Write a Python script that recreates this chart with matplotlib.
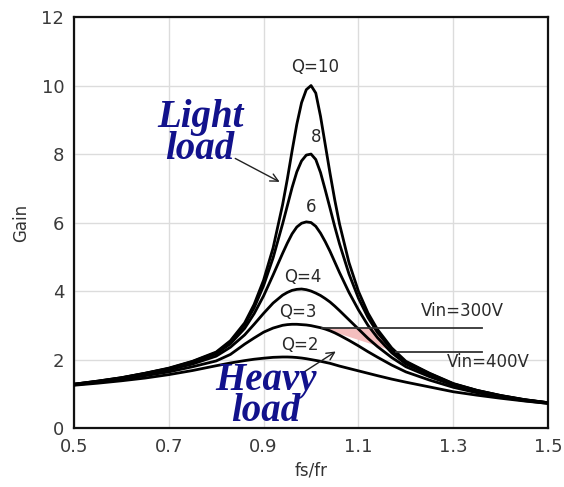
import numpy as np
import matplotlib

matplotlib.use("Agg")
import matplotlib.pyplot as plt

# normalised switching frequency fs/fr (denser around resonance)
fs_fr = [0.50, 0.55, 0.60, 0.65, 0.70, 0.75, 0.80, 0.83, 0.86, 0.88, 0.90, 0.92, 0.94,
         0.95, 0.96, 0.97, 0.98, 0.99, 1.00, 1.01, 1.02, 1.03, 1.04, 1.05, 1.06, 1.08,
         1.10, 1.12, 1.14, 1.17, 1.20, 1.25, 1.30, 1.35, 1.40, 1.45, 1.50]

# gain curves, one per Q
gain_q10 = [1.28, 1.37, 1.47, 1.60, 1.75, 1.95, 2.22, 2.55, 3.07, 3.61, 4.32, 5.26, 6.52,
            7.27, 8.09, 8.87, 9.50, 9.88, 10.0, 9.78, 9.10, 8.27, 7.44, 6.66, 5.96, 4.83,
            3.99, 3.36, 2.88, 2.34, 1.95, 1.60, 1.30, 1.10, 0.95, 0.83, 0.74]
gain_q8 = [1.28, 1.37, 1.47, 1.60, 1.74, 1.94, 2.20, 2.52, 3.02, 3.51, 4.16, 4.97, 5.96,
           6.49, 7.02, 7.48, 7.80, 7.97, 8.00, 7.84, 7.46, 6.95, 6.42, 5.88, 5.38, 4.50,
           3.79, 3.23, 2.79, 2.29, 1.92, 1.59, 1.29, 1.10, 0.95, 0.83, 0.74]
gain_q6 = [1.28, 1.36, 1.46, 1.59, 1.73, 1.92, 2.17, 2.46, 2.91, 3.34, 3.86, 4.47, 5.10,
           5.40, 5.67, 5.87, 5.98, 6.02, 6.00, 5.89, 5.69, 5.44, 5.16, 4.85, 4.54, 3.96,
           3.45, 3.00, 2.64, 2.20, 1.87, 1.56, 1.28, 1.09, 0.94, 0.82, 0.74]
gain_q4 = [1.27, 1.35, 1.45, 1.57, 1.70, 1.87, 2.10, 2.36, 2.72, 3.03, 3.35, 3.65, 3.88,
           3.96, 4.02, 4.05, 4.06, 4.04, 4.00, 3.94, 3.87, 3.78, 3.68, 3.56, 3.43, 3.16,
           2.89, 2.62, 2.38, 2.06, 1.79, 1.50, 1.25, 1.07, 0.93, 0.82, 0.73]
gain_q3 = [1.26, 1.34, 1.42, 1.53, 1.64, 1.79, 1.96, 2.15, 2.45, 2.63, 2.80, 2.92, 3.00,
           3.02, 3.03, 3.03, 3.02, 3.01, 2.99, 2.96, 2.93, 2.89, 2.84, 2.78, 2.71, 2.56,
           2.40, 2.23, 2.07, 1.84, 1.64, 1.40, 1.19, 1.03, 0.905, 0.80, 0.72]
gain_q2 = [1.25, 1.31, 1.38, 1.46, 1.56, 1.68, 1.82, 1.90, 1.97, 2.01, 2.04, 2.065, 2.075,
           2.075, 2.07, 2.06, 2.045, 2.025, 2.00, 1.975, 1.95, 1.92, 1.89, 1.85, 1.81, 1.74,
           1.67, 1.60, 1.53, 1.43, 1.34, 1.20, 1.06, 0.96, 0.87, 0.79, 0.72]

curves = [gain_q10, gain_q8, gain_q6, gain_q4, gain_q3, gain_q2]
curve_labels = ["Q=10", "8", "6", "Q=4", "Q=3", "Q=2"]
label_pos = [(1.008, 10.55), (1.01, 8.5), (1.0, 6.45), (0.983, 4.4), (0.973, 3.4), (0.977, 2.42)]

# input-voltage gain levels and where their lines end
vin_names = ["Vin=300V", "Vin=400V"]
vin_gain = [2.92, 2.22]
vin_line_end = 1.36


def right_crossing(gain, level):
    """fs/fr where the falling (above-resonance) side of a curve hits a gain level."""
    g = np.asarray(gain)
    x = np.asarray(fs_fr)
    i = int(np.argmax(g))
    return float(np.interp(level, g[i:][::-1], x[i:][::-1]))


fig = plt.figure(figsize=(5.64, 4.87), dpi=100)
ax = fig.add_axes([0.131, 0.121, 0.841, 0.844])

# operating region between the two Vin levels, from Q=3 to Q=10
x_top_l = right_crossing(gain_q3, vin_gain[0])
x_top_r = right_crossing(gain_q10, vin_gain[0])
x_bot = right_crossing(gain_q10, vin_gain[1])
ax.fill([x_top_l, x_top_r, x_bot], [vin_gain[0], vin_gain[0], vin_gain[1]],
        color="#f4bebe", zorder=2, lw=0)

for g in curves:
    ax.plot(fs_fr, g, color="black", lw=2.0, zorder=3, solid_joinstyle="round")

for txt, (x, y) in zip(curve_labels, label_pos):
    ax.text(x, y, txt, ha="center", va="center", fontsize=12, color="#2a2a2a", zorder=4)

# Vin lines start at the pink region edge
vin_start = [x_top_l, x_bot]
for x0, level in zip(vin_start, vin_gain):
    ax.plot([x0, vin_line_end], [level, level], color="#333333", lw=1.3, zorder=3)
ax.text(1.32, 3.42, vin_names[0], ha="center", va="center", fontsize=12, color="#2a2a2a")
ax.text(1.373, 1.93, vin_names[1], ha="center", va="center", fontsize=12, color="#2a2a2a")

load_style = dict(ha="center", va="center", fontsize=28, color="#12128c",
                  family="Liberation Serif", weight="bold", style="italic",
                  linespacing=0.8, zorder=5)
ax.text(0.766, 8.6, "Light\nload", **load_style)
ax.text(0.905, 0.93, "Heavy\nload", **load_style)

arrow = dict(arrowstyle="->", color="#222222", lw=1.0, mutation_scale=14)
ax.annotate("", xy=(0.939, 7.15), xytext=(0.835, 7.91), arrowprops=arrow, zorder=4)
ax.annotate("", xy=(1.057, 2.28), xytext=(0.981, 1.6), arrowprops=arrow, zorder=4)

ax.set_xlim(0.5, 1.5)
ax.set_ylim(0, 12)
ax.set_xticks([0.5, 0.7, 0.9, 1.1, 1.3, 1.5])
ax.set_yticks(range(0, 13, 2))
ax.grid(True, color="#dcdcdc", lw=1.0, zorder=0)
ax.set_axisbelow(True)
ax.tick_params(length=0, labelsize=13, labelcolor="#3a3a3a", pad=7)
for side in ax.spines.values():
    side.set_linewidth(1.6)
    side.set_color("#111111")
ax.set_xlabel("fs/fr", fontsize=12, color="#333333", labelpad=4)
ax.set_ylabel("Gain", fontsize=12, color="#333333", labelpad=8)

fig.savefig("out.png", dpi=100)
